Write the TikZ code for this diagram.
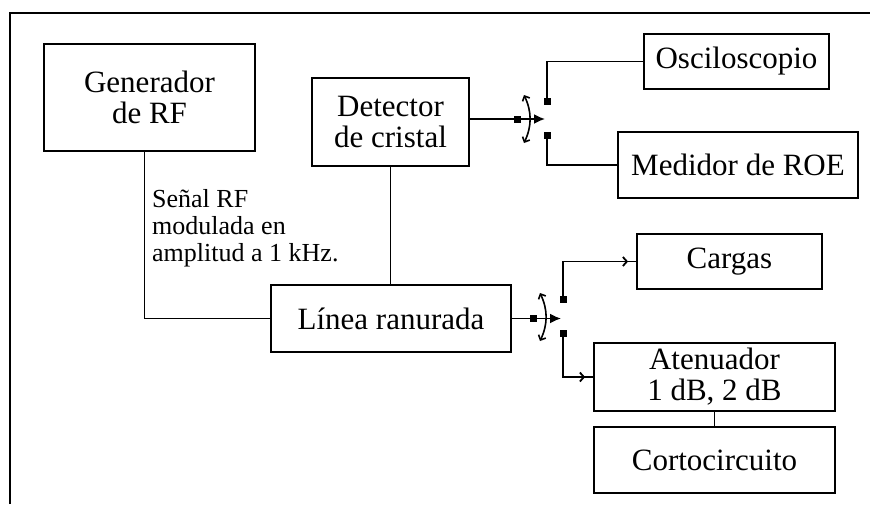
\documentclass[tikz,border=0pt]{standalone}
\usepackage{fontspec}
\setmainfont{Liberation Serif}
\usetikzlibrary{arrows.meta}

\begin{document}
\begin{tikzpicture}[x=1pt, y=-1pt,
      every node/.style={font=\fontsize{31}{31}\selectfont},
      wire/.style={line width=1.8pt},
      blk/.style={draw, line width=1.8pt, align=center, inner sep=0pt},
      contact/.style={draw, fill, minimum size=6pt, inner sep=0pt, line width=0pt},
      note/.style={font=\fontsize{26}{27}\selectfont, align=left, inner sep=0pt},
      swarr/.style={wire, -{Latex[length=11pt, width=10pt]}},
      rotarr/.style={{Straight Barb[length=4pt, width=8pt]}-{Straight Barb[length=4pt, width=8pt]}, line width=1.6pt},
      barb/.style={wire, -{Straight Barb[length=4pt, width=9pt]}}]
    \useasboundingbox (0,0) rectangle (870,504);
    \draw[wire] (10,504) -- (10,13) -- (870,13);
    % bloques
    \node[blk, minimum width=211pt, minimum height=107pt] (gen) at (149.5,97.5) {Generador\\de RF};
    \node[blk, minimum width=157pt, minimum height=88pt] (det) at (390.5,122) {Detector\\de cristal};
    \node[blk, minimum width=240pt, minimum height=67pt] (lin) at (391,318.5) {Línea ranurada};
    \node[blk, minimum width=185pt, minimum height=55pt] (osc) at (736.5,61.5) {Osciloscopio};
    \node[blk, minimum width=240pt, minimum height=66pt] (roe) at (738,165) {Medidor de ROE};
    \node[blk, minimum width=185pt, minimum height=55pt] (car) at (729.5,261.5) {Cargas};
    \node[blk, minimum width=241pt, minimum height=68pt] (ate) at (714.5,377) {Atenuador\\1 dB, 2 dB};
    \node[blk, minimum width=241pt, minimum height=66pt] (cor) at (714.5,460) {Cortocircuito};
    \node[note, anchor=north west] (senal) at (152,189) {Señal RF\\modulada en\\amplitud a 1 kHz.};
    \draw[wire] ([xshift=-5pt]gen.south) |- (lin.west);
    \draw[wire] (det.south) -- (det.south |- lin.north);
    \draw[wire] (ate.south) -- (cor.north);
    % conmutador 1
    \node[contact] (s1in) at (517,119) {};
    \node[contact] (s1a) at (547,101) {};
    \node[contact] (s1b) at (547,135) {};
    \coordinate (s1tip) at (545,119);
    \coordinate (s1top) at (524,95);
    \coordinate (s1bot) at (524,143);
    \draw[wire] (s1in -| det.east) -- (s1in);
    \draw[swarr] (s1in) -- (s1tip);
    \draw[rotarr] (s1top) to[bend left=25] (s1bot);
    \draw[wire] (s1a) |- (osc.west);
    \draw[wire] (s1b) |- (roe.west);
    % conmutador 2
    \node[contact] (s2in) at (533,318.5) {};
    \node[contact] (s2a) at (563,299) {};
    \node[contact] (s2b) at (563,333) {};
    \coordinate (s2tip) at (561,318.5);
    \coordinate (s2top) at (540,293);
    \coordinate (s2bot) at (540,341);
    \draw[wire] (lin.east) -- (s2in);
    \draw[swarr] (s2in) -- (s2tip);
    \draw[rotarr] (s2top) to[bend left=25] (s2bot);
    \draw[wire] (s2a) |- (car.west);
    \draw[barb] (s2a) |- ([xshift=-8pt]car.west);
    \draw[wire] (s2b) |- (ate.west);
    \draw[barb] (s2b) |- ([xshift=-8pt]ate.west);
  \end{tikzpicture}
\end{document}
